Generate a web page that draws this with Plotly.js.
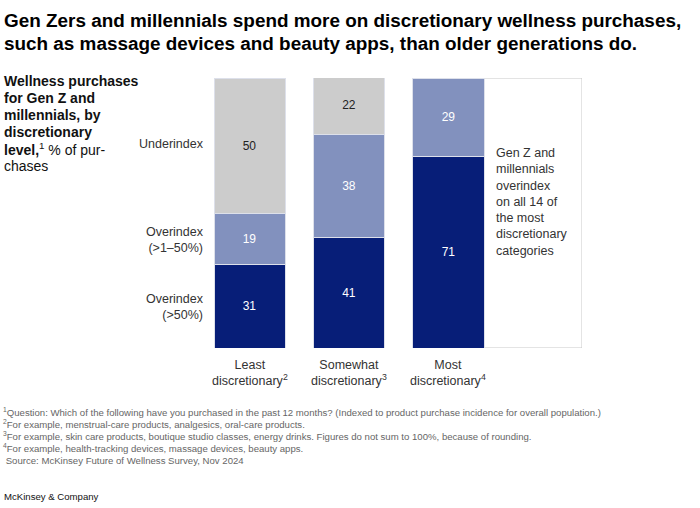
<!DOCTYPE html>
<html><head><meta charset="utf-8">
<script src="https://cdn.plot.ly/plotly-3.0.1.min.js"></script>
<style>body{margin:0;background:#fff}#chart{width:700px;height:508px}</style>
</head><body><div id="chart"></div>
<script>
const categories = ["Least<br>discretionary<sup>2</sup>", "Somewhat<br>discretionary<sup>3</sup>", "Most<br>discretionary<sup>4</sup>"];
const seriesNames = ["Overindex<br>(>50%)", "Overindex<br>(>1–50%)", "Underindex"];
const over50 = [31, 41, 71];
const over1to50 = [19, 38, 29];
const underindex = [50, 22, 0];
const colors = ["#071e78", "#8291be", "#cccccc"];
const textColors = ["#ffffff", "#ffffff", "#222222"];
const xIdx = [0, 1, 2];
const titleLines = [
  "Gen Zers and millennials spend more on discretionary wellness purchases,",
  "such as massage devices and beauty apps, than older generations do."
];
const subtitleLines = [
  "<b>Wellness purchases</b>",
  "<b>for Gen Z and</b>",
  "<b>millennials, by</b>",
  "<b>discretionary</b>",
  "<b>level,</b><sup>1</sup> % of pur-",
  "chases"
];
const footnoteLines = [
  "<sup>1</sup>Question: Which of the following have you purchased in the past 12 months? (Indexed to product purchase incidence for overall population.)",
  "<sup>2</sup>For example, menstrual-care products, analgesics, oral-care products.",
  "<sup>3</sup>For example, skin care products, boutique studio classes, energy drinks. Figures do not sum to 100%, because of rounding.",
  "<sup>4</sup>For example, health-tracking devices, massage devices, beauty apps.",
  " Source: McKinsey Future of Wellness Survey, Nov 2024"
];
const boxNote = "Gen Z and<br>millennials<br>overindex<br>on all 14 of<br>the most<br>discretionary<br>categories";
const FONT = "Liberation Sans, Arial, sans-serif";

const PLOT_L = 214, PLOT_W = 368, PLOT_T = 78, PLOT_H = 270;
const px = v => (v - PLOT_L) / PLOT_W;          // paper x from pixel
const py = v => 1 - (v - PLOT_T) / PLOT_H;      // paper y from pixel

const seriesVals = [over50, over1to50, underindex];
const traces = seriesVals.map((vals, i) => ({
  type: "bar",
  x: xIdx,
  y: vals,
  name: seriesNames[i],
  width: 0.714,
  marker: {color: colors[i], line: {color: "#dde0ea", width: 1}},
  text: vals.map(v => v > 0 ? String(v) : ""),
  textposition: "inside",
  insidetextanchor: "middle",
  textfont: {family: FONT, size: 12, color: textColors[i]},
  hoverinfo: "none",
  cliponaxis: true
}));

const annotations = [];
// title lines
titleLines.forEach((t, i) => {
  annotations.push({
    xref: "paper", yref: "paper", x: px(2), y: py(20 + i * 23.5),
    xanchor: "left", yanchor: "middle", text: "<b>" + t + "</b>", showarrow: false,
    font: {family: FONT, size: 18.9, color: "#000"}
  });
});
// left subtitle lines
subtitleLines.forEach((t, i) => {
  annotations.push({
    xref: "paper", yref: "paper", x: px(2), y: py(81 + i * 17),
    xanchor: "left", yanchor: "middle", text: t, showarrow: false,
    font: {family: FONT, size: 14, color: "#111"}
  });
});
// row labels aligned to first bar segments
let cum = 0;
seriesVals.forEach((vals, i) => {
  const v = vals[0];
  annotations.push({
    xref: "x", yref: "y", x: -0.357, y: cum + v / 2,
    text: seriesNames[i], showarrow: false, xanchor: "right", align: "right",
    xshift: -8, yshift: i === 2 ? 2 : -1,
    font: {family: FONT, size: 12.5, color: "#333"}
  });
  cum += v;
});
// x category labels
categories.forEach((c, i) => {
  annotations.push({
    xref: "x", yref: "paper", x: i, y: 0, yanchor: "top", yshift: -8,
    text: c, showarrow: false, align: "center",
    font: {family: FONT, size: 12.5, color: "#333"}
  });
});
annotations.push({
  xref: "x", yref: "y", x: 2.357, y: 81, xanchor: "left", yanchor: "top", xshift: 10, yshift: -15,
  text: boxNote,
  showarrow: false, align: "left",
  font: {family: FONT, size: 12.5, color: "#333"}
});
// footnotes
footnoteLines.forEach((t, i) => {
  annotations.push({
    xref: "paper", yref: "paper", x: px(1), y: py(412 + i * 12),
    xanchor: "left", yanchor: "middle", text: t, showarrow: false,
    font: {family: FONT, size: 9.6, color: "#666"}
  });
});
annotations.push({
  xref: "paper", yref: "paper", x: px(2), y: py(496),
  xanchor: "left", yanchor: "middle", text: "McKinsey & Company", showarrow: false,
  font: {family: FONT, size: 9.6, color: "#111"}
});

const layout = {
  width: 700, height: 508,
  margin: {l: PLOT_L, r: 700 - PLOT_L - PLOT_W, t: PLOT_T, b: 508 - PLOT_T - PLOT_H},
  barmode: "stack",
  bargap: 0,
  showlegend: false,
  paper_bgcolor: "#fff", plot_bgcolor: "#fff",
  xaxis: {range: [-0.357, 3.342], showticklabels: false, showgrid: false, zeroline: false, fixedrange: true},
  yaxis: {range: [0, 100], visible: false, fixedrange: true},
  shapes: [{
    type: "rect", xref: "x", yref: "y", x0: 2.357, x1: 3.342, y0: 0, y1: 100,
    line: {color: "#c8c8c8", width: 1}, fillcolor: "rgba(0,0,0,0)", layer: "below"
  }],
  annotations: annotations
};
Plotly.newPlot("chart", traces, layout, {displayModeBar: false, staticPlot: true});
</script></body></html>
